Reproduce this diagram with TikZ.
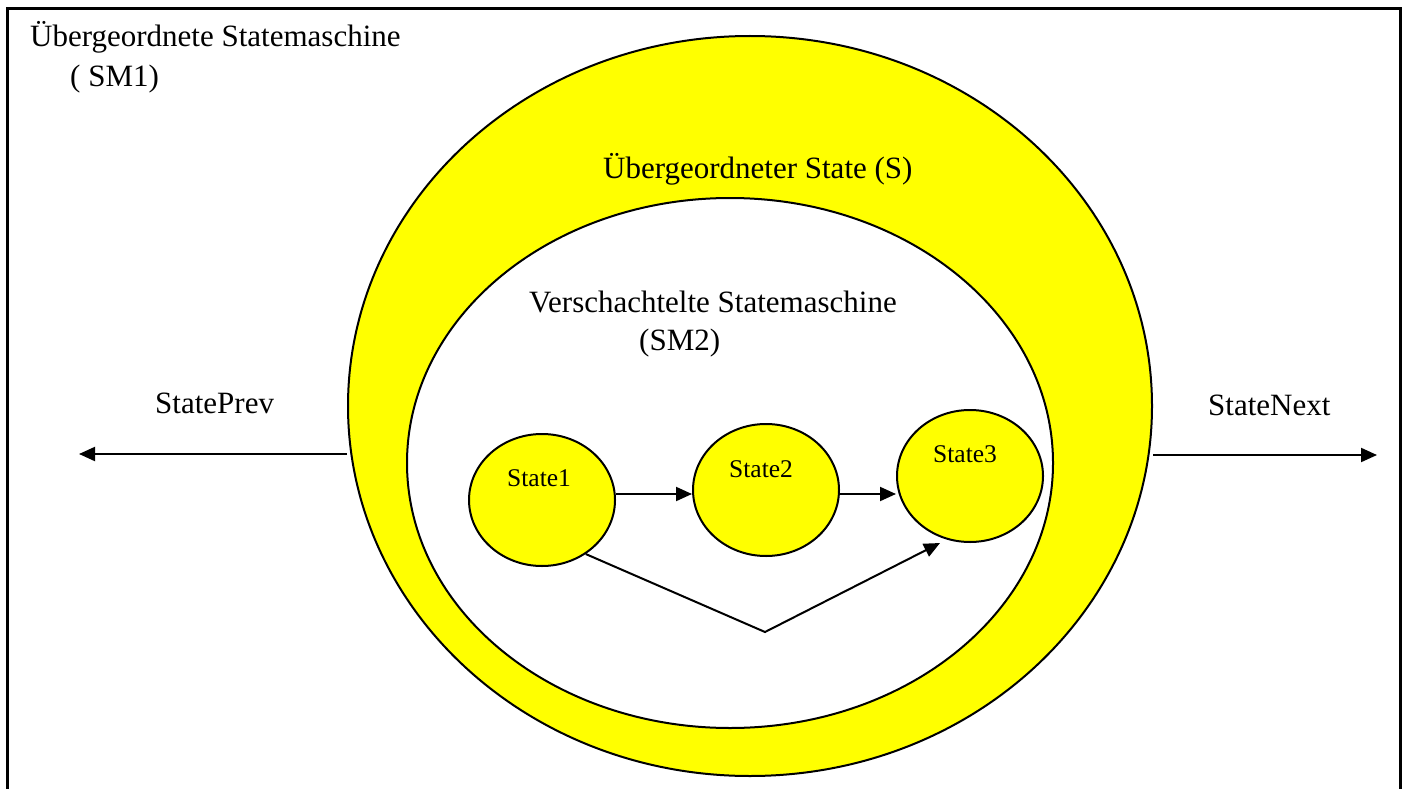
\documentclass[tikz,border=0pt]{standalone}
\usepackage{fontspec}
\setmainfont{Liberation Serif}
\usetikzlibrary{shapes.geometric,arrows.meta}
\definecolor{stateyellow}{RGB}{255,255,0}
\tikzset{
  big/.style={font=\fontsize{31}{36}\selectfont, inner sep=0pt, anchor=base west},
  small/.style={font=\fontsize{25.5}{30}\selectfont, inner sep=0pt, anchor=base west},
  ring/.style={ellipse, draw=black, line width=2pt, inner sep=0pt},
  statebox/.style={ellipse, draw=black, line width=2pt, fill=stateyellow, inner sep=0pt, minimum width=146pt, minimum height=132pt},
  arr/.style={line width=2pt, -{Triangle[length=16pt,width=14pt]}}
}
\begin{document}
\begin{tikzpicture}[x=1pt,y=-1pt]
\useasboundingbox (0,0) rectangle (1405,789);
\clip (0,0) rectangle (1405,789);
\fill[white] (0,0) rectangle (1405,789);
\draw[line width=3pt] (7,9) rectangle (1400,820);

\node[ring, fill=stateyellow, minimum width=804pt, minimum height=740pt] (outer) at (750,406) {};
\node[ring, fill=white, minimum width=646pt, minimum height=530pt] (inner) at (730,463) {};

\node[big] (t1) at (30,47) {Übergeordnete Statemaschine};
\node[big] (t2) at (70,87) {( SM1)};
\node[big] (ts) at (603,178) {Übergeordneter State (S)};
\node[big] (tv) at (529,312) {Verschachtelte Statemaschine};
\node[big] (tsm2) at (639,350) {(SM2)};
\node[big] (tprev) at (155,413) {StatePrev};
\node[big] (tnext) at (1208,415) {StateNext};

\node[statebox] (s1) at (542,500) {};
\node[statebox] (s2) at (766,490) {};
\node[statebox] (s3) at (970,476) {};
\node[small] (l1) at (507,486) {State1};
\node[small] (l2) at (729,477) {State2};
\node[small] (l3) at (933,462) {State3};

\coordinate (pl) at (79,454);
\coordinate (pr) at (1377,455);
\draw[arr] (outer.west |- pl) -- (pl);
\draw[arr] (outer.east |- pr) -- (pr);

\draw[arr] ([yshift=6pt]s1.east) -- ([yshift=-4pt]s2.west);
\draw[arr] ([yshift=-4pt]s2.east) -- ([yshift=-18pt]s3.west);

\coordinate (v) at (765,632);
\coordinate (t3) at (940,543);
\draw[arr] (s1.-51) -- (v) -- (t3);
\end{tikzpicture}
\end{document}
